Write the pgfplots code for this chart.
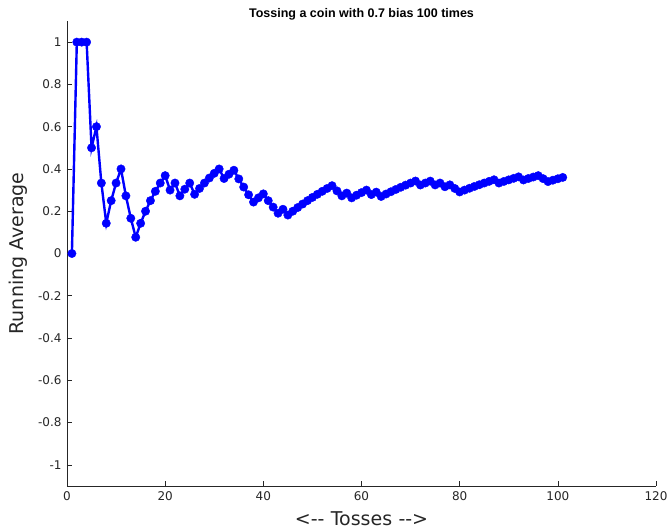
\documentclass[border=0pt]{standalone}
\usepackage{pgfplots}
\pgfplotsset{compat=1.18}
\usepackage{fontspec}
\setmainfont{DejaVu Sans}
\newfontfamily\titlefont{Liberation Sans}
\definecolor{axgray}{rgb}{0.15,0.15,0.15}
\definecolor{mblue}{rgb}{0,0,1}
\begin{document}
\begin{tikzpicture}
\begin{axis}[
  scale only axis, width=589pt, height=465pt,
  xmin=0, xmax=120, ymin=-1.1, ymax=1.1,
  axis x line*=bottom, axis y line*=left,
  axis line style={-, draw=axgray, line width=0.6pt},
  xtick={0,20,40,60,80,100,120},
  ytick={-1,-0.8,-0.6,-0.4,-0.2,0,0.2,0.4,0.6,0.8,1},
  yticklabels={-1,-0.8,-0.6,-0.4,-0.2,0,0.2,0.4,0.6,0.8,1},
  tick align=inside, major tick length=5pt,
  tick style={draw=axgray, line width=0.6pt},
  ticklabel style={font=\fontsize{12}{13}\selectfont, text=axgray},
  /pgf/number format/assume math mode=true,
  xticklabel style={yshift=-2pt},
  yticklabel style={xshift=-2pt},
  title={\titlefont\bfseries Tossing a coin with 0.7 bias 100 times},
  title style={at={(0.5,1)}, anchor=center, yshift=1pt, font=\fontsize{12.5}{14}\selectfont},
  xlabel={<-{}-\,\,Tosses\,\,-{}->},
  ylabel={Running Average},
  xlabel style={font=\fontsize{19}{22}\selectfont, text=axgray, at={(0.5,0)}, anchor=center, yshift=-33pt},
  ylabel style={font=\fontsize{19}{22}\selectfont, text=axgray, at={(0,0.5)}, anchor=center, yshift=49pt},
]
\addplot[mblue, line width=2.4pt, mark=*, mark size=4.2pt, mark options={fill=mblue, draw=mblue, line width=0.4pt, solid}] coordinates {
(1,0) (2,1) (3,1) (4,1) (5,0.5) (6,0.6) (7,0.3333) (8,0.1429) (9,0.25) (10,0.3333)
(11,0.4) (12,0.2727) (13,0.1667) (14,0.0769) (15,0.1429) (16,0.2) (17,0.25) (18,0.2941) (19,0.3333) (20,0.3684)
(21,0.3) (22,0.3333) (23,0.2727) (24,0.3043) (25,0.3333) (26,0.28) (27,0.3077) (28,0.3333) (29,0.3571) (30,0.3793)
(31,0.4) (32,0.3548) (33,0.375) (34,0.3939) (35,0.3529) (36,0.3143) (37,0.2778) (38,0.2432) (39,0.2632) (40,0.2821)
(41,0.25) (42,0.2195) (43,0.1905) (44,0.2093) (45,0.1818) (46,0.2) (47,0.2174) (48,0.2340) (49,0.25) (50,0.2653)
(51,0.28) (52,0.2941) (53,0.3077) (54,0.3208) (55,0.2963) (56,0.2727) (57,0.2857) (58,0.2632) (59,0.2759) (60,0.2881)
(61,0.3) (62,0.2787) (63,0.2903) (64,0.2698) (65,0.2813) (66,0.2923) (67,0.3030) (68,0.3134) (69,0.3235) (70,0.3333)
(71,0.3429) (72,0.3239) (73,0.3333) (74,0.3425) (75,0.3243) (76,0.3333) (77,0.3158) (78,0.3247) (79,0.3077) (80,0.2911)
(81,0.3) (82,0.3086) (83,0.3171) (84,0.3253) (85,0.3333) (86,0.3412) (87,0.3488) (88,0.3333) (89,0.3409) (90,0.3483)
(91,0.3556) (92,0.3626) (93,0.3478) (94,0.3548) (95,0.3617) (96,0.3684) (97,0.3542) (98,0.3402) (99,0.3469) (100,0.3535)
(101,0.36)
};
\end{axis}
\pgfresetboundingbox
\path ([shift={(-67pt,-46pt)}]current axis.south west) rectangle ([shift={(16pt,21pt)}]current axis.north east);
\end{tikzpicture}
\end{document}
